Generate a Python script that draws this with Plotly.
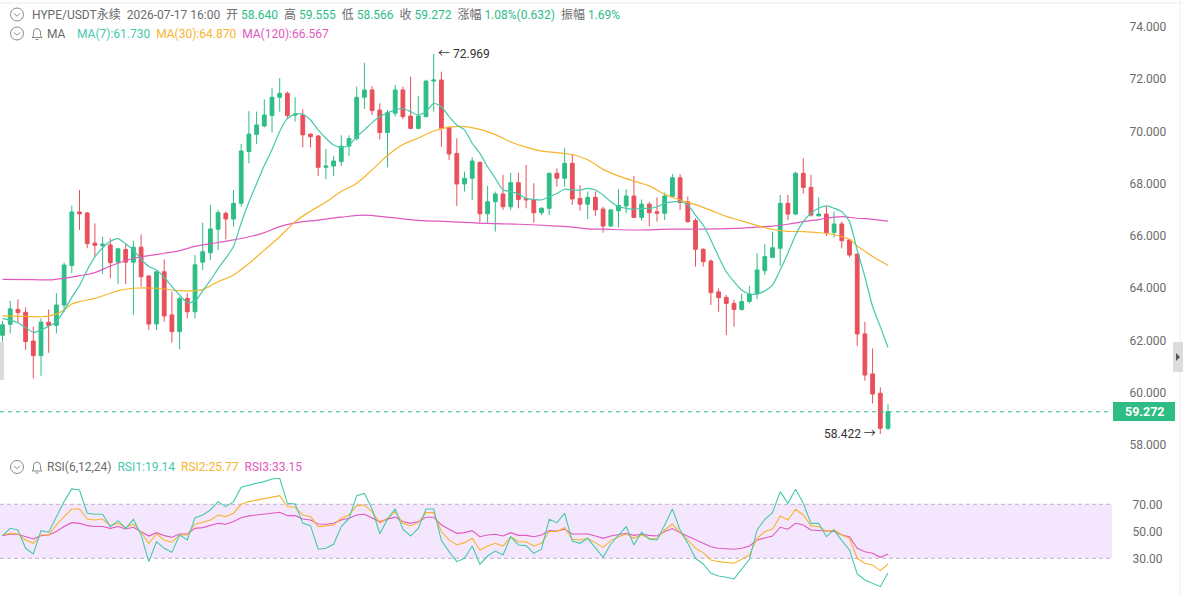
import plotly.graph_objects as go

W, H = 1183, 595
PLOT_R = 1112  # right edge of plot area in px

# ---------------- data ----------------
opens = [62.20,62.62,63.19,63.08,61.98,61.42,62.70,62.58,63.36,64.87,66.92,66.88,65.73,65.63,65.66,65.00,65.48,65.00,65.57,64.47,
         62.63,64.63,62.98,62.34,63.61,63.10,65.00,65.36,66.26,66.87,66.65,67.25,69.23,69.89,70.21,70.61,71.31,71.46,70.62,70.63,
         69.90,69.83,68.63,68.68,68.85,69.44,69.73,71.31,71.59,70.82,69.96,70.70,71.59,70.59,70.12,70.57,71.93,71.97,70.16,69.16,
         67.99,68.21,68.82,66.85,67.31,67.61,67.12,68.04,67.44,67.38,66.89,67.06,68.40,68.21,68.78,67.44,67.22,67.48,67.03,66.38,
         66.97,67.15,67.53,66.71,67.22,66.93,66.87,67.52,68.23,67.31,66.59,65.49,65.04,63.86,63.65,63.42,63.19,63.49,63.78,64.67,
         65.18,65.53,67.25,66.84,68.40,67.86,66.77,66.84,66.13,66.46,65.85,65.31,62.25,60.72,59.98,58.640]
highs = [62.75,63.52,63.58,63.27,62.53,62.85,63.19,63.81,64.98,67.16,67.76,66.93,66.48,65.97,65.91,65.53,65.69,65.82,66.06,64.50,
         64.66,65.11,63.87,63.68,63.81,65.27,66.51,67.19,67.00,66.93,67.76,69.52,70.78,70.76,71.23,71.68,72.04,71.53,71.31,70.85,
         69.93,69.85,69.33,69.07,69.85,69.85,71.72,72.63,71.74,71.08,70.82,71.78,71.72,72.10,71.36,71.98,72.969,72.29,70.18,69.74,
         68.46,69.01,68.85,67.91,67.70,68.34,68.42,68.42,68.72,68.02,67.10,68.42,68.59,69.36,69.10,67.95,67.70,67.70,67.12,67.02,
         67.79,67.79,68.30,67.40,67.31,67.48,67.66,68.37,68.37,67.51,66.68,65.53,65.11,64.00,63.74,63.55,63.78,64.09,65.34,65.69,
         66.17,67.57,67.57,68.46,68.97,68.34,67.48,67.15,66.93,66.55,65.87,65.33,62.72,61.70,60.21,59.555]
lows = [61.95,62.27,62.68,61.64,60.55,60.65,61.53,62.27,63.10,64.57,66.23,65.53,65.21,64.55,64.38,64.16,64.16,62.98,64.06,62.40,
        62.40,62.72,61.92,61.66,62.85,62.85,64.70,65.08,65.46,65.87,66.36,67.12,68.78,69.52,70.16,69.96,70.76,70.47,70.38,69.39,
        69.39,68.30,68.17,68.30,68.68,69.07,69.65,70.86,70.63,69.70,68.63,70.57,70.47,70.08,70.08,70.55,70.76,69.42,68.91,67.15,
        67.70,67.38,66.51,66.51,66.17,67.00,67.00,67.06,67.06,66.51,66.80,66.80,67.89,67.89,67.19,66.97,66.65,66.77,66.13,66.36,
        66.33,66.87,66.70,66.59,66.38,66.55,66.61,67.50,67.00,66.51,64.83,64.83,63.36,63.10,62.21,62.53,63.14,63.42,63.58,64.51,
        65.15,64.85,66.61,66.80,67.63,66.74,66.75,66.00,65.95,65.53,65.18,61.79,60.46,59.59,58.422,58.566]
closes = [62.60,63.21,63.07,61.96,61.42,62.70,62.58,63.36,64.89,66.92,66.85,65.71,65.64,65.69,64.98,65.51,65.00,65.57,64.44,62.63,
          64.63,62.94,62.34,63.60,63.10,64.90,65.40,66.27,66.89,66.65,67.25,69.25,69.90,70.25,70.63,71.31,71.46,70.62,70.67,69.87,
          69.80,68.63,68.68,68.87,69.44,69.73,71.31,71.59,70.80,69.96,70.72,71.59,70.57,70.12,70.59,71.93,71.97,70.12,69.14,67.99,
          68.21,68.87,66.85,67.31,67.61,67.12,68.04,67.40,67.38,66.89,67.06,68.40,68.21,68.78,67.42,67.22,67.48,67.00,66.38,67.00,
          67.17,67.53,66.71,67.22,66.89,66.87,67.53,68.23,67.28,66.55,65.49,65.02,63.83,63.64,63.42,63.19,63.49,63.78,64.70,65.21,
          65.55,67.25,66.84,68.40,67.86,66.80,66.84,66.13,66.46,65.82,65.27,62.25,60.68,59.95,58.64,59.272]
idx = list(range(len(closes)))

ma7 = [62.85,62.78,62.68,62.50,62.31,62.40,62.55,62.72,63.15,63.65,64.10,64.70,65.20,65.55,65.80,65.90,65.70,65.46,65.11,64.83,
       64.70,64.42,64.06,63.74,63.45,63.50,63.90,64.30,64.75,65.15,65.60,66.50,67.30,68.00,68.70,69.30,70.00,70.50,70.67,70.66,
       70.44,70.06,69.74,69.48,69.39,69.48,69.80,70.06,70.34,70.57,70.72,70.82,70.88,70.76,70.63,70.76,71.08,70.95,70.57,70.25,
       70.06,69.55,69.16,68.65,68.21,67.76,67.70,67.61,67.44,67.40,67.38,67.50,67.63,67.79,67.76,67.76,67.82,67.76,67.57,67.31,
       67.12,67.06,67.02,67.06,67.06,67.12,67.25,67.31,67.31,67.19,66.80,66.42,65.85,65.21,64.63,64.25,63.93,63.78,63.78,63.90,
       64.12,64.70,65.34,66.04,66.55,66.87,67.06,67.15,67.06,66.93,66.55,65.46,64.44,63.30,62.53,61.73]

ma30_idx = [0,3,5,7,8,9,10,12,14,15,17,20,23,25,26,28,30,32,34,36,38,40,42,44,46,48,50,52,54,56,58,60,62,64,66,68,70,72,74,76,
            78,80,82,84,86,88,90,92,94,96,98,100,102,104,106,108,110,111,112,113,114,115]
ma30 = [62.94,62.92,62.91,63.01,63.17,63.40,63.49,63.61,63.81,63.91,64.00,64.00,63.91,63.91,63.95,64.25,64.51,64.95,65.46,65.97,
        66.55,66.95,67.30,67.70,68.02,68.53,69.08,69.50,69.75,70.02,70.17,70.19,70.08,69.88,69.60,69.40,69.25,69.19,69.12,68.92,
        68.55,68.30,68.10,67.92,67.60,67.38,67.20,66.98,66.75,66.58,66.40,66.25,66.18,66.17,66.13,66.05,65.87,65.62,65.42,65.22,
        65.04,64.87]

ma120_idx = [0,4,6,8,10,12,14,17,19,21,23,25,28,30,32,34,36,38,41,44,47,50,54,58,63,67,72,74,76,78,82,87,91,95,98,100,102,104,
             106,108,109,111,113,115]
ma120 = [64.34,64.33,64.32,64.38,64.48,64.60,64.85,65.14,65.25,65.34,65.44,65.60,65.75,65.85,65.97,66.13,66.36,66.50,66.61,66.72,
         66.80,66.72,66.60,66.55,66.48,66.45,66.38,66.34,66.27,66.26,66.23,66.26,66.26,66.29,66.34,66.38,66.45,66.55,66.63,66.72,
         66.74,66.68,66.64,66.57]

rsi1 = [46.8,52.2,51.0,37.4,33.2,50.5,49.3,60.9,72.0,81.4,80.6,63.3,62.6,62.6,53.5,57.9,52.2,58.9,47.3,27.5,
        42.3,37.4,34.4,47.3,43.6,60.1,62.1,65.8,72.0,68.3,72.0,82.6,84.3,85.6,86.8,88.8,89.3,70.7,70.2,55.9,
        54.2,36.7,37.4,40.4,53.5,59.6,76.4,78.1,66.5,48.2,59.0,66.6,51.5,46.5,52.2,66.5,66.5,43.1,34.9,27.5,
        30.0,39.1,25.6,31.7,35.4,32.5,46.0,39.9,39.4,33.7,36.7,58.9,56.4,63.3,42.8,41.1,44.8,37.4,30.7,40.6,
        47.3,53.5,39.9,49.3,44.1,43.6,54.7,66.5,51.0,41.1,30.0,25.8,18.9,16.9,15.9,14.7,21.9,29.3,51.0,58.9,
        63.8,79.4,70.7,81.1,70.7,55.9,55.9,46.0,51.0,43.1,36.2,18.4,14.0,11.5,9.0,19.14]
rsi2 = [47.3,48.5,48.0,43.6,41.1,47.3,47.3,54.7,60.9,66.5,66.5,59.1,58.4,59.1,54.2,55.9,52.7,55.4,49.3,41.1,
        48.0,43.6,41.9,47.3,47.3,55.2,56.7,58.4,62.1,60.9,63.3,70.0,72.0,73.2,74.4,75.7,76.4,68.3,67.8,62.1,
        60.9,53.5,54.0,54.7,59.6,62.1,69.0,69.5,64.6,56.2,59.6,64.4,55.9,54.0,56.4,63.8,63.8,49.8,43.6,39.9,
        41.6,44.8,36.2,39.1,41.1,39.1,46.0,42.3,42.3,39.1,41.1,49.8,49.8,52.7,44.1,43.6,44.8,41.6,38.1,43.1,
        46.0,48.0,44.8,47.3,44.8,44.3,51.0,55.4,49.0,43.6,37.4,34.2,28.8,27.5,26.8,26.3,29.3,32.5,44.8,49.8,
        51.5,61.4,58.4,66.3,62.1,54.0,53.5,49.8,51.0,47.3,44.8,30.0,26.3,25.1,20.9,25.77]
rsi3 = [46.8,48.0,47.8,46.0,44.3,46.8,47.3,49.8,53.5,56.4,55.9,54.2,53.5,53.5,52.2,53.5,51.7,53.0,49.8,46.5,
        49.0,46.8,45.6,48.0,48.0,52.2,52.7,54.2,55.9,55.2,57.2,60.1,61.4,62.1,62.6,63.3,64.1,61.6,61.6,59.1,
        58.4,55.4,55.2,55.9,58.4,59.6,62.1,62.6,59.6,57.0,59.0,60.5,57.2,55.9,57.2,60.4,60.4,54.7,51.5,48.5,
        49.0,50.5,46.0,47.3,47.8,46.5,49.0,47.0,47.0,46.0,47.3,50.5,50.2,51.5,48.0,47.8,48.0,46.5,44.8,46.5,
        47.3,48.5,47.0,47.8,47.0,46.5,49.8,52.0,49.0,46.5,43.6,41.6,38.6,37.4,37.2,36.7,37.4,39.1,43.6,44.8,
        46.5,53.0,51.5,55.9,54.7,51.0,50.5,49.8,49.8,47.3,46.0,37.4,34.9,33.7,30.7,33.15]

price_ticks = [58, 60, 62, 64, 66, 68, 70, 72, 74]
rsi_ticks = [30, 50, 70]
last_price = 59.272
high_idx, high_val = 56, 72.969
low_idx, low_val = 114, 58.422

# ---------------- styling ----------------
GREEN = "#2ebd85"
RED = "#e8505b"
C7 = "#45c9ad"
C30 = "#f7b42c"
C120 = "#e059bd"
GREY = "#6b6b6b"
FONT = "Roboto, 'Noto Sans CJK SC', sans-serif"

def px(x):
    return x / PLOT_R

def py(y):
    return 1 - y / H

fig = go.Figure()
fig.add_trace(go.Candlestick(
    x=idx, open=opens, high=highs, low=lows, close=closes,
    increasing=dict(line=dict(color=GREEN, width=1), fillcolor=GREEN),
    decreasing=dict(line=dict(color=RED, width=1), fillcolor=RED),
    whiskerwidth=0, hoverinfo="skip", xaxis="x", yaxis="y"))
fig.add_trace(go.Scatter(x=ma120_idx, y=ma120, mode="lines", line=dict(color=C120, width=1.2, shape="spline"),
                         hoverinfo="skip", xaxis="x", yaxis="y"))
fig.add_trace(go.Scatter(x=ma30_idx, y=ma30, mode="lines", line=dict(color=C30, width=1.2, shape="spline"),
                         hoverinfo="skip", xaxis="x", yaxis="y"))
fig.add_trace(go.Scatter(x=idx, y=ma7, mode="lines", line=dict(color=C7, width=1.2, shape="spline", smoothing=0.6),
                         hoverinfo="skip", xaxis="x", yaxis="y"))

for vals, col in [(rsi3, C120), (rsi2, C30), (rsi1, C7)]:
    fig.add_trace(go.Scatter(x=idx, y=vals, mode="lines", line=dict(color=col, width=1.1),
                             hoverinfo="skip", xaxis="x2", yaxis="y2"))

step = 7.7
x0pix = 2.5
xr = [-x0pix / step, (PLOT_R - x0pix) / step]

def p_at(y):
    return 58 + (445 - y) / 26.125

def r_at(y):
    return 50 + (531.3 - y) / 1.35

shapes = []
annotations = []

# RSI band
shapes.append(dict(type="rect", xref="x2 domain", yref="y2", x0=0, x1=1, y0=30, y1=70,
                   fillcolor="#f4e7fd", line=dict(width=0), layer="below"))
for lv in (30, 70):
    shapes.append(dict(type="line", xref="x2 domain", yref="y2", x0=0, x1=1, y0=lv, y1=lv,
                       line=dict(color="#bfb0cc", width=1, dash="4px,3px"), layer="below"))

# last price dashed line + label
shapes.append(dict(type="line", xref="x domain", yref="y", x0=0, x1=1, y0=last_price, y1=last_price,
                   line=dict(color=GREEN, width=1, dash="4px,4px")))
shapes.append(dict(type="rect", xref="paper", yref="paper", x0=px(1113), x1=px(1175), y0=py(421), y1=py(402),
                   fillcolor=GREEN, line=dict(width=0)))
annotations.append(dict(xref="paper", yref="paper", x=px(1144), y=py(411.5), text="<b>59.272</b>", showarrow=False,
                        font=dict(color="white", size=12.5, family=FONT), xanchor="center", yanchor="middle"))

# high / low marks
annotations.append(dict(xref="x", yref="y", x=high_idx, y=high_val, text="← 72.969", showarrow=False,
                        xanchor="left", yanchor="middle", xshift=2, font=dict(color="#333", size=12, family=FONT)))
annotations.append(dict(xref="x", yref="y", x=low_idx, y=low_val, text="58.422 →", showarrow=False,
                        xanchor="right", yanchor="middle", xshift=-2, font=dict(color="#333", size=12, family=FONT)))

# header texts
def g(t):
    return f'<span style="color:{GREEN}">{t}</span>'

row1 = ("HYPE/USDT永续  2026-07-17 16:00  开 " + g("58.640") + "  高 " + g("59.555") + "  低 " + g("58.566") +
        "  收 " + g("59.272") + "  涨幅 " + g("1.08%(0.632)") + "  振幅 " + g("1.69%"))
annotations.append(dict(xref="paper", yref="paper", x=px(30), y=py(14.5), text=row1, showarrow=False,
                        xanchor="left", yanchor="middle", font=dict(color=GREY, size=12, family=FONT)))
annotations.append(dict(xref="paper", yref="paper", x=px(45), y=py(33.5), text="MA", showarrow=False,
                        xanchor="left", yanchor="middle", font=dict(color=GREY, size=12, family=FONT)))
row2 = (f'<span style="color:{C7}">MA(7):61.730</span>  ' +
        f'<span style="color:{C30}">MA(30):64.870</span>  ' +
        f'<span style="color:{C120}">MA(120):66.567</span>')
annotations.append(dict(xref="paper", yref="paper", x=px(75), y=py(33.5), text=row2, showarrow=False,
                        xanchor="left", yanchor="middle", font=dict(color=GREY, size=12, family=FONT)))
row3 = ("RSI(6,12,24)  " + f'<span style="color:{C7}">RSI1:19.14</span>  ' +
        f'<span style="color:{C30}">RSI2:25.77</span>  ' +
        f'<span style="color:{C120}">RSI3:33.15</span>')
annotations.append(dict(xref="paper", yref="paper", x=px(45), y=py(467), text=row3, showarrow=False,
                        xanchor="left", yanchor="middle", font=dict(color=GREY, size=12, family=FONT)))

# icons: circle chevrons and bells
def circ(cx, cy, r=6.5):
    shapes.append(dict(type="circle", xref="paper", yref="paper", x0=px(cx - r), x1=px(cx + r),
                       y0=py(cy + r), y1=py(cy - r), line=dict(color="#8a8a8a", width=1)))
    shapes.append(dict(type="path", xref="paper", yref="paper",
                       path=f"M {px(cx-3)},{py(cy-1.2)} L {px(cx)},{py(cy+1.8)} L {px(cx+3)},{py(cy-1.2)}",
                       line=dict(color="#8a8a8a", width=1)))

def bell(cx, cy):
    pts = [(cx - 5, cy + 4), (cx - 3.5, cy + 2), (cx - 3.5, cy - 1.5), (cx - 2.5, cy - 4), (cx, cy - 5),
           (cx + 2.5, cy - 4), (cx + 3.5, cy - 1.5), (cx + 3.5, cy + 2), (cx + 5, cy + 4)]
    d = "M " + " L ".join(f"{px(a)},{py(b)}" for a, b in pts) + " Z"
    shapes.append(dict(type="path", xref="paper", yref="paper", path=d, line=dict(color="#8a8a8a", width=1)))
    shapes.append(dict(type="line", xref="paper", yref="paper", x0=px(cx - 1.5), x1=px(cx + 1.5),
                       y0=py(cy + 6), y1=py(cy + 6), line=dict(color="#8a8a8a", width=1)))

circ(17, 14.5)
circ(17, 33.5)
circ(17, 467)
bell(37, 33.5)
bell(37, 467)

# top separator line, right separator, side handles
shapes.append(dict(type="line", xref="paper", yref="paper", x0=0, x1=W / PLOT_R, y0=py(3), y1=py(3),
                   line=dict(color="#ececec", width=1)))
shapes.append(dict(type="line", xref="paper", yref="paper", x0=px(1180), x1=px(1180), y0=py(0), y1=py(H),
                   line=dict(color="#ececec", width=1)))
shapes.append(dict(type="rect", xref="paper", yref="paper", x0=px(1173), x1=px(1184), y0=py(372), y1=py(342),
                   fillcolor="#dcdcdc", line=dict(width=0)))
shapes.append(dict(type="path", xref="paper", yref="paper",
                   path=f"M {px(1176)},{py(353)} L {px(1180)},{py(357)} L {px(1176)},{py(361)} Z",
                   fillcolor="#555", line=dict(width=0)))
shapes.append(dict(type="rect", xref="paper", yref="paper", x0=px(-1), x1=px(4), y0=py(380), y1=py(342),
                   fillcolor="#dcdcdc", line=dict(width=0)))

fig.update_layout(
    width=W, height=H,
    margin=dict(l=0, r=W - PLOT_R, t=0, b=0),
    paper_bgcolor="white", plot_bgcolor="white",
    showlegend=False, hovermode=False,
    font=dict(family=FONT, size=12, color=GREY),
    shapes=shapes, annotations=annotations,
    xaxis=dict(domain=[0, 1], range=xr, showgrid=False, zeroline=False, showticklabels=False,
               rangeslider=dict(visible=False), fixedrange=True, anchor="y"),
    yaxis=dict(domain=[py(455), py(20)], range=[p_at(455), p_at(20)], side="right",
               tickvals=price_ticks, ticktext=[f"{v:.3f}" for v in price_ticks],
               showgrid=False, zeroline=False, ticks="outside", ticklen=14, tickcolor="rgba(0,0,0,0)",
               tickfont=dict(size=12, color=GREY, family=FONT), anchor="x"),
    xaxis2=dict(domain=[0, 1], range=xr, showgrid=False, zeroline=False, showticklabels=False,
                matches="x", anchor="y2"),
    yaxis2=dict(domain=[0, py(478)], range=[r_at(595), r_at(478)], side="right",
                tickvals=rsi_ticks, ticktext=[f"{v:.2f}" for v in rsi_ticks],
                showgrid=False, zeroline=False, ticks="outside", ticklen=17, tickcolor="rgba(0,0,0,0)",
                tickfont=dict(size=12, color=GREY, family=FONT), anchor="x2"),
)

fig.write_html("out.html")
